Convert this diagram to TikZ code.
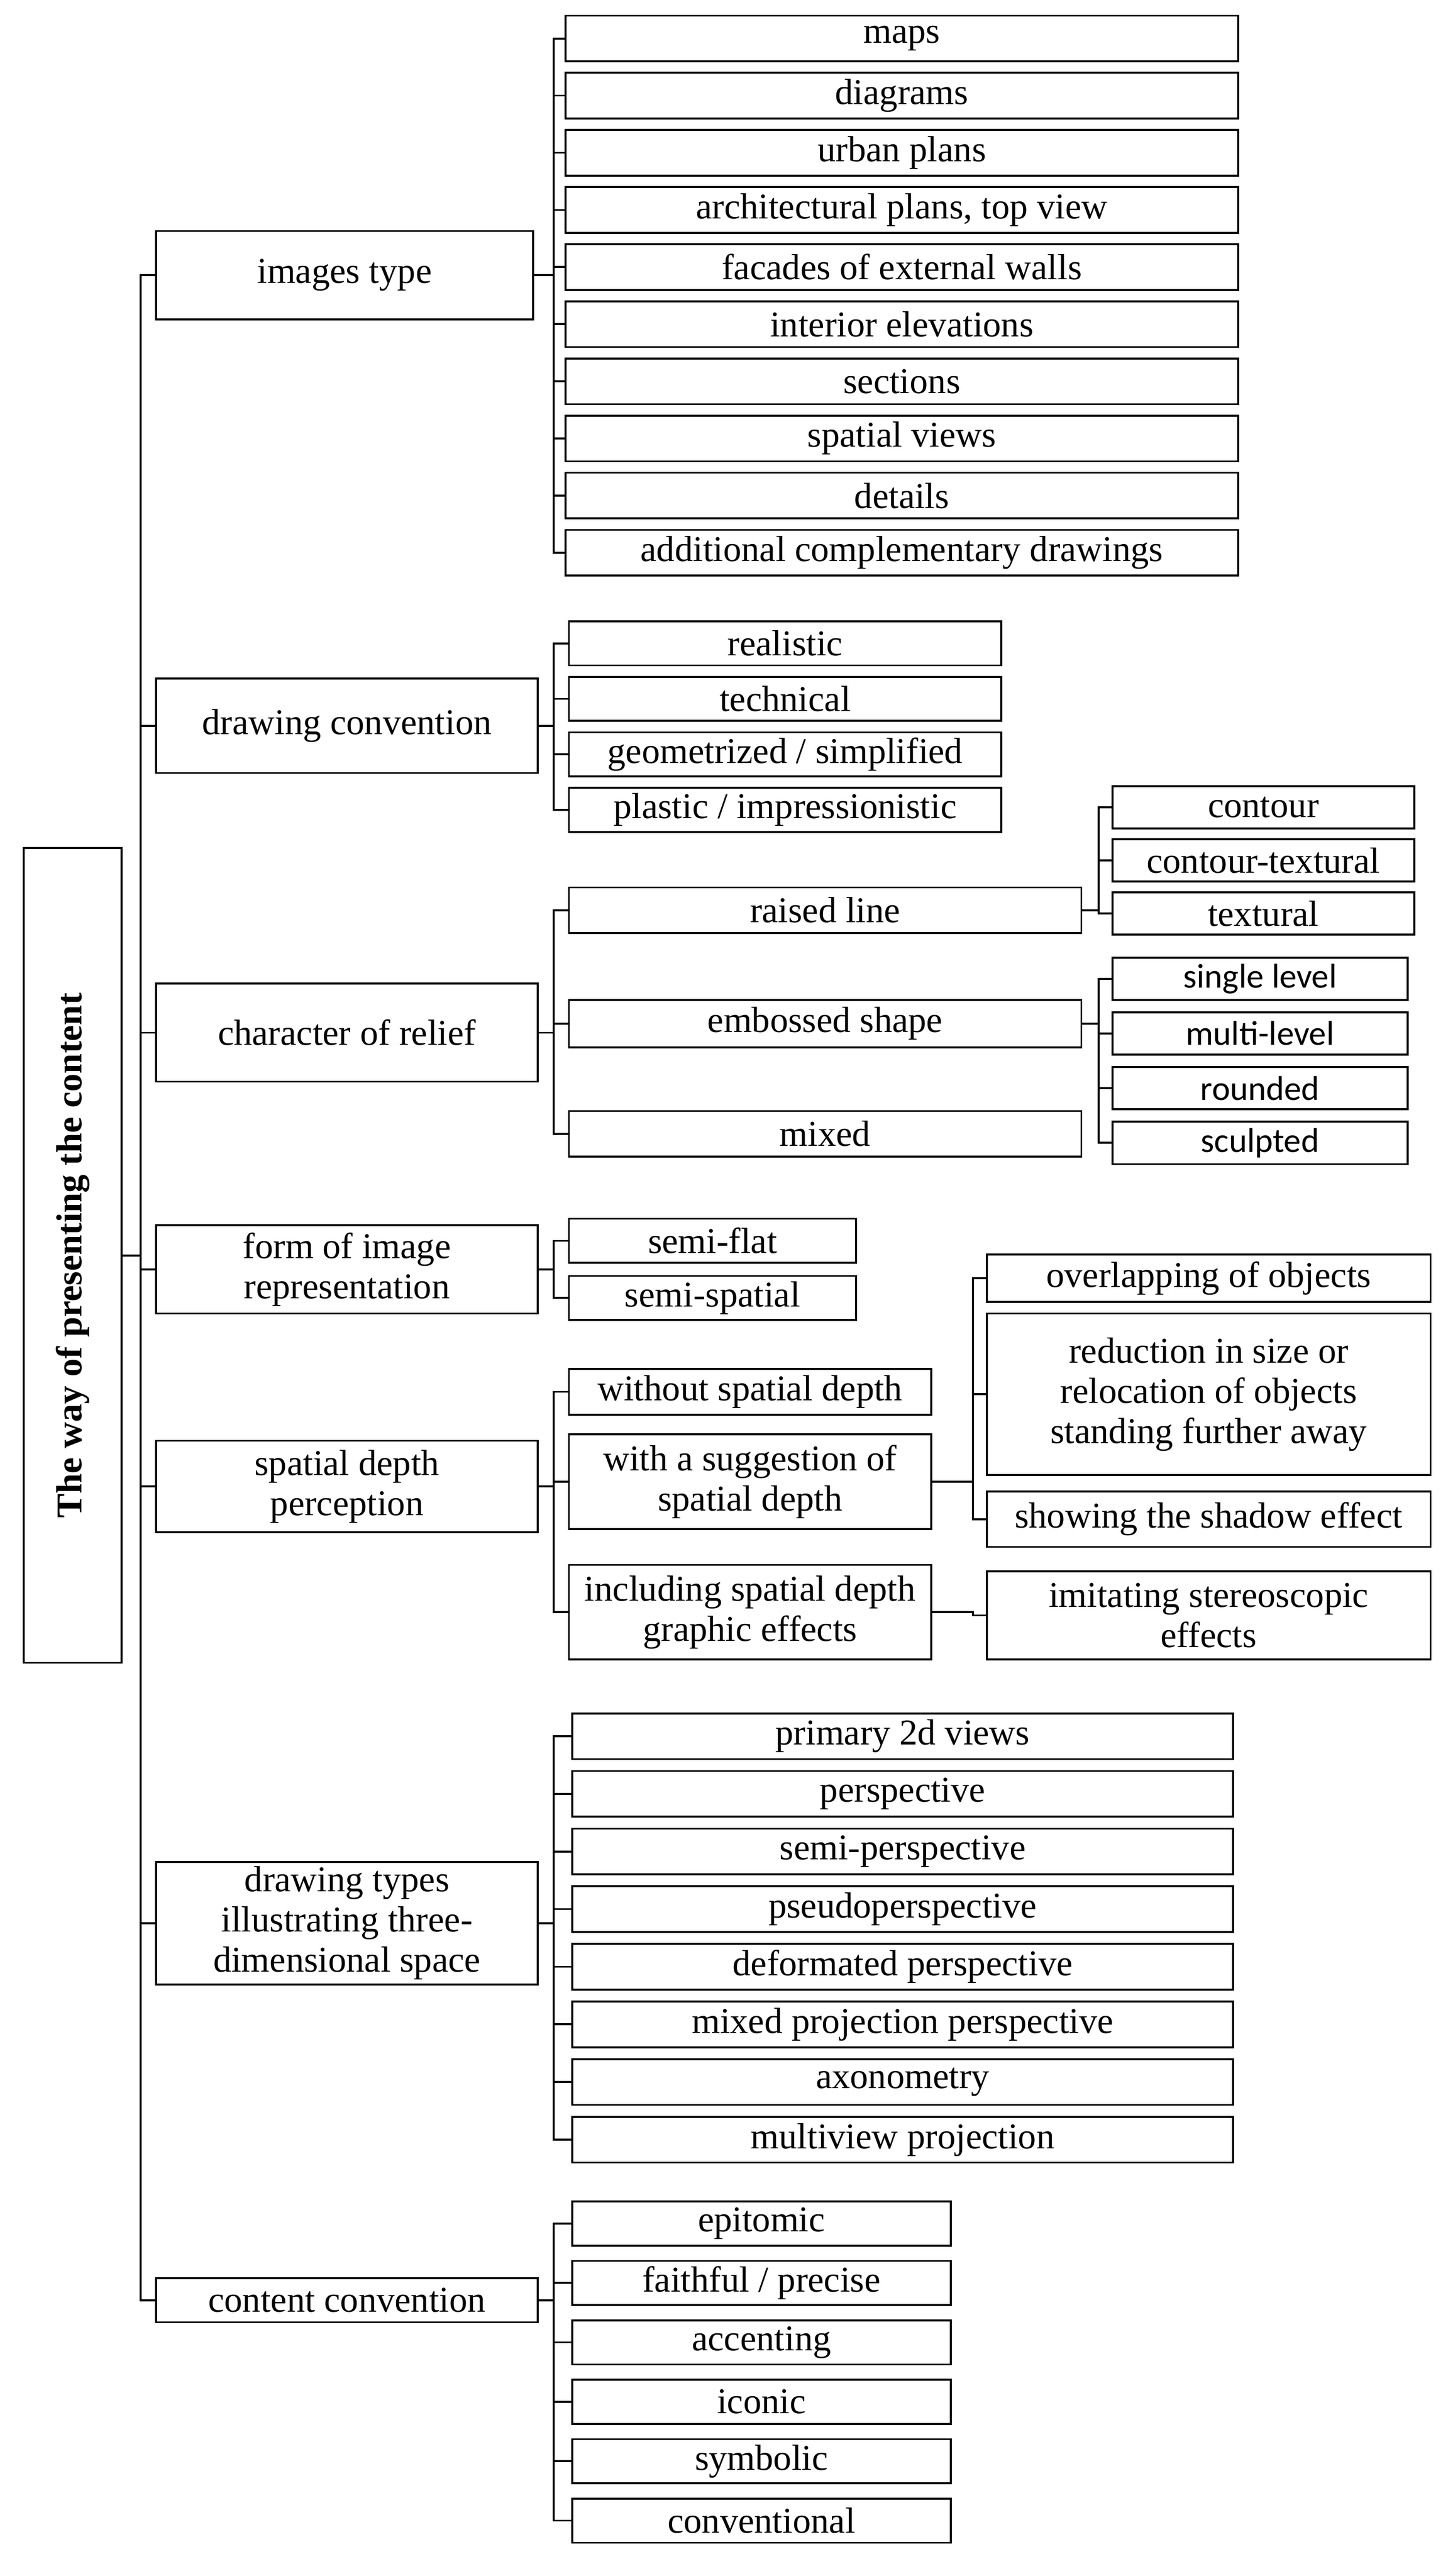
\documentclass[tikz,border=0pt]{standalone}
\usepackage{fontspec}
\setmainfont{Liberation Serif}
\newfontfamily\sansf{Carlito}
\usetikzlibrary{positioning}

\tikzset{
  box/.style={draw,line width=1pt,inner sep=0pt,align=center,font=\fontsize{19}{21}\selectfont},
  link/.style={line width=1pt}
}
% \bx{name}{x1}{y1}{x2}{y2}{text}
\newcommand{\bx}[7][]{\node[box,#1,anchor=north west,minimum width={((#4)-(#2))*0.03cm},minimum height={((#5)-(#3))*0.03cm}] (#6) at ({#2},{#3}) {#7};}

\begin{document}
\begin{tikzpicture}[x=0.03cm,y=-0.03cm]

\useasboundingbox (0,0) rectangle (890,1578);

\bx{14}{519}{74}{1018}{root}{}
\node[rotate=90,font=\fontsize{19}{21}\selectfont\bfseries] at (root.center) {The way of presenting the content};

% first level
\bx{95}{141}{326}{195}{imt}{images type}
\bx{95}{415}{329}{473}{drc}{drawing convention}
\bx{95}{602}{329}{662}{rel}{character of relief}
\bx{95}{750}{329}{804}{frm}{form of image\\representation}
\bx{95}{882}{329}{938}{spd}{spatial depth\\perception}
\bx{95}{1140}{329}{1215}{drt}{drawing types\\illustrating three-\\dimensional space}
\bx{95}{1395}{329}{1422}{cnc}{content convention}

\foreach \n in {imt,drc,rel,frm,spd,drt,cnc}
  \draw[link] (root.east) -- ++(11,0) |- (\n.west);

% images type
\foreach \t [count=\i] in {maps,diagrams,urban plans,{architectural plans, top view},facades of external walls,interior elevations,sections,spatial views,details,additional complementary drawings}{
  \bx{346}{9+(\i-1)*35}{758}{37+(\i-1)*35}{imt\i}{\t}
  \draw[link] (imt.east) -- ++(12,0) |- (imt\i.west);
}

% drawing convention
\foreach \t [count=\i] in {realistic,technical,geometrized / simplified,plastic / impressionistic}{
  \bx{348}{380+(\i-1)*34}{613}{407+(\i-1)*34}{drc\i}{\t}
  \draw[link] (drc.east) -- ++(9,0) |- (drc\i.west);
}

% character of relief
\bx{348}{543}{662}{571}{rel1}{raised line}
\bx{348}{612}{662}{641}{rel2}{embossed shape}
\bx{348}{680}{662}{708}{rel3}{mixed}
\foreach \n in {rel1,rel2,rel3}
  \draw[link] (rel.east) -- ++(9,0) |- (\n.west);

\foreach \t [count=\i] in {contour,contour-textural,textural}{
  \bx{681}{481+(\i-1)*32.5}{866}{507+(\i-1)*32.5}{rl\i}{\t}
  \draw[link] (rel1.east) -- ++(10,0) |- (rl\i.west);
}
\foreach \t [count=\i] in {single level,multi-level,rounded,sculpted}{
  \bx[font=\fontsize{18}{20}\sansf]{681}{586+(\i-1)*33.5}{862}{612+(\i-1)*33.5}{em\i}{\t}
  \draw[link] (rel2.east) -- ++(10,0) |- (em\i.west);
}

% form of image representation
\bx{348}{746}{524}{773}{frm1}{semi-flat}
\bx{348}{781}{524}{808}{frm2}{semi-spatial}
\foreach \n in {frm1,frm2}
  \draw[link] (frm.east) -- ++(9,0) |- (\n.west);

% spatial depth perception
\bx{348}{838}{570}{866}{spd1}{without spatial depth}
\bx{348}{878}{570}{936}{spd2}{with a suggestion of\\spatial depth}
\bx{348}{958}{570}{1016}{spd3}{including spatial depth\\graphic effects}
\foreach \n in {spd1,spd2,spd3}
  \draw[link] (spd.east) -- ++(9,0) |- (\n.west);

\bx{604}{768}{876}{797}{sg1}{overlapping of objects}
\bx{604}{804}{876}{903}{sg2}{reduction in size or\\relocation of objects\\standing further away}
\bx{604}{913}{876}{947}{sg3}{showing the shadow effect}
\foreach \n in {sg1,sg2,sg3}
  \draw[link] (spd2.east) -- ++(25,0) |- (\n.west);
\bx{604}{962}{876}{1016}{ie1}{imitating stereoscopic\\effects}
\draw[link] (spd3.east) -- ++(25,0) |- (ie1.west);

% drawing types
\foreach \t [count=\i] in {primary 2d views,perspective,semi-perspective,pseudoperspective,deformated perspective,mixed projection perspective,axonometry,multiview projection}{
  \bx{350}{1049+(\i-1)*35.3}{755}{1077+(\i-1)*35.3}{drt\i}{\t}
  \draw[link] (drt.east) -- ++(9,0) |- (drt\i.west);
}

% content convention
\foreach \t [count=\i] in {epitomic,faithful / precise,accenting,iconic,symbolic,conventional}{
  \bx{350}{1348+(\i-1)*36.4}{582}{1375+(\i-1)*36.4}{cnc\i}{\t}
  \draw[link] (cnc.east) -- ++(9,0) |- (cnc\i.west);
}

\end{tikzpicture}
\end{document}
